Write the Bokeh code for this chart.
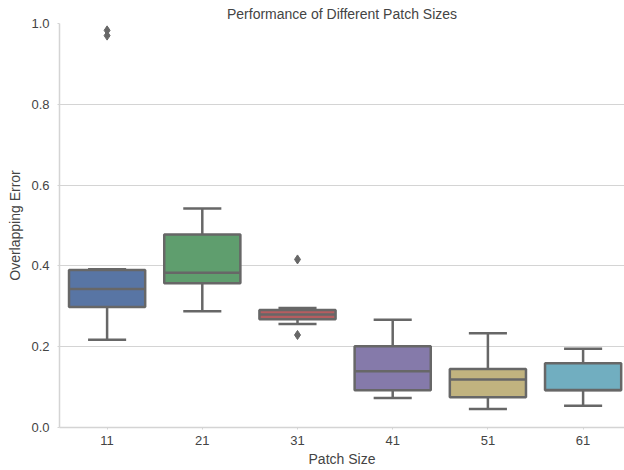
import numpy as np
from bokeh.plotting import figure
from bokeh.models import Range1d, FixedTicker, ColumnDataSource, PrintfTickFormatter
from bokeh.embed import file_html
from bokeh.resources import INLINE

# ---- data ----
categories = ["11", "21", "31", "41", "51", "61"]
lower_whisker = [0.217, 0.288, 0.256, 0.073, 0.046, 0.054]
q1 = [0.298, 0.357, 0.268, 0.092, 0.075, 0.092]
median = [0.343, 0.383, 0.280, 0.139, 0.119, 0.093]
q3 = [0.390, 0.478, 0.291, 0.201, 0.145, 0.159]
upper_whisker = [0.392, 0.542, 0.296, 0.267, 0.233, 0.195]
outlier_cat = ["11", "11", "31", "31"]
outlier_val = [0.983, 0.970, 0.416, 0.229]
box_colors = ["#5875A4", "#5F9E6E", "#B55D60", "#857AAA", "#C1B37F", "#71AEC0"]
y_ticks = [0.0, 0.2, 0.4, 0.6, 0.8, 1.0]

LINE = "#676767"
GRID = "#d4d4d4"
TEXT = "#444444"
FONT = "Liberation Sans"

xs = np.arange(len(categories))
src = ColumnDataSource(dict(
    x=xs, xl=xs - 0.4, xr=xs + 0.4, cl=xs - 0.2, cr=xs + 0.2,
    lo=lower_whisker, q1=q1, med=median, q3=q3, hi=upper_whisker, color=box_colors,
))
ox = [categories.index(c) for c in outlier_cat]

p = figure(width=624, height=470, output_backend="svg", toolbar_location=None,
           x_range=Range1d(-0.5, -0.5 + 565 / 95.2), y_range=Range1d(0, 1.0),
           min_border_left=59, min_border_top=23, min_border_right=0, min_border_bottom=43,
           title="Performance of Different Patch Sizes")
p.outline_line_color = None
p.background_fill_color = "white"
p.title.align = "center"
p.title.text_font = FONT
p.title.text_font_size = "14px"
p.title.text_font_style = "normal"
p.title.text_color = TEXT
p.title.standoff = 3
p.title.offset = 2

# whiskers
p.segment(x0="x", y0="q3", x1="x", y1="hi", source=src, line_color=LINE, line_width=2.5)
p.segment(x0="x", y0="q1", x1="x", y1="lo", source=src, line_color=LINE, line_width=2.5)
# caps
p.segment(x0="cl", y0="hi", x1="cr", y1="hi", source=src, line_color=LINE, line_width=2.5)
p.segment(x0="cl", y0="lo", x1="cr", y1="lo", source=src, line_color=LINE, line_width=2.5)
# boxes
p.vbar(x="x", width=0.8, bottom="q1", top="q3", source=src, fill_color="color",
       line_color=LINE, line_width=2.5)
# medians
p.segment(x0="xl", y0="med", x1="xr", y1="med", source=src, line_color=LINE, line_width=2.5)
# outliers
p.scatter(x=ox, y=outlier_val, marker="diamond", size=9, fill_color=LINE, line_color=LINE)

# axes
p.xaxis.ticker = FixedTicker(ticks=list(xs))
p.xaxis.major_label_overrides = {int(i): c for i, c in zip(xs, categories)}
p.yaxis.ticker = FixedTicker(ticks=y_ticks)
p.yaxis.formatter = PrintfTickFormatter(format="%.1f")
for ax in (p.xaxis[0], p.yaxis[0]):
    ax.axis_line_color = GRID
    ax.axis_line_width = 1.5
    ax.major_tick_line_color = GRID
    ax.major_tick_in = 0
    ax.major_tick_out = 2
    ax.minor_tick_line_color = None
    ax.major_label_text_font = FONT
    ax.major_label_text_font_size = "13px"
    ax.major_label_text_color = TEXT
    ax.axis_label_text_font = FONT
    ax.axis_label_text_font_size = "14px"
    ax.axis_label_text_font_style = "normal"
    ax.axis_label_text_color = TEXT
p.xaxis.axis_label = "Patch Size"
p.yaxis.axis_label = "Overlapping Error"
p.xaxis.major_label_standoff = 6
p.xaxis.axis_label_standoff = 3
p.yaxis.major_label_standoff = 8
p.yaxis.axis_label_standoff = 5

p.xgrid.grid_line_color = None
p.ygrid.grid_line_color = GRID
p.ygrid.grid_line_width = 1.2

open("out.html", "w").write(file_html(p, INLINE))
